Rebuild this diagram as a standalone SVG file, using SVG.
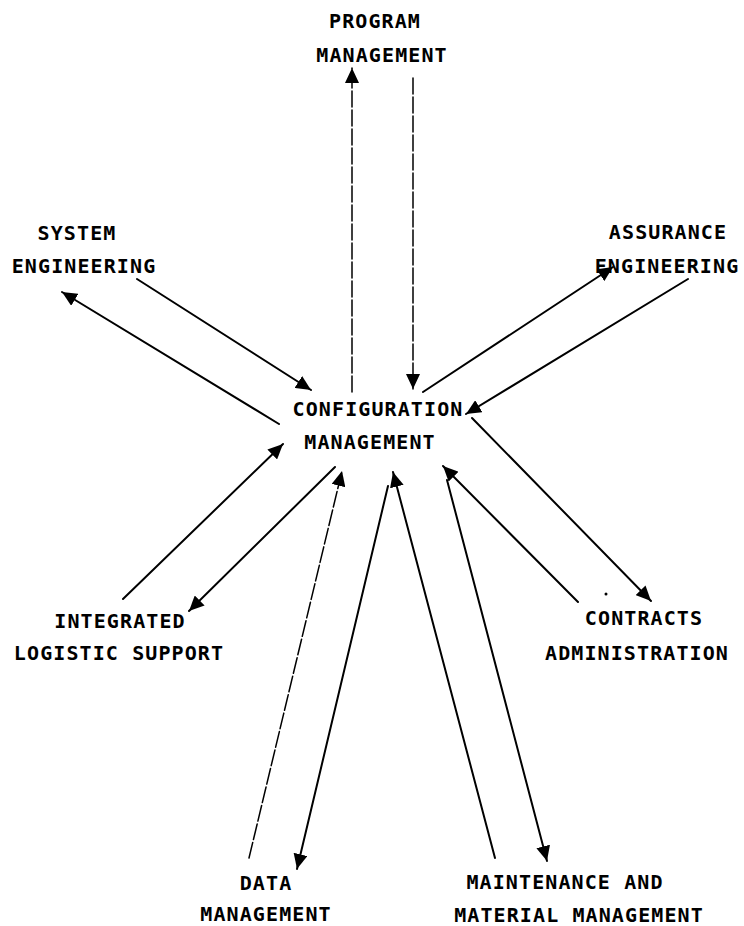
<svg xmlns="http://www.w3.org/2000/svg" width="744" height="926" viewBox="0 0 744 926">
  <style>
    .lbl { font-family: "DejaVu Sans Mono", "Liberation Mono", monospace; font-size: 20px; font-weight: bold; letter-spacing: 1.1px; fill: #000; text-anchor: middle; }
    .ln { stroke: #000; stroke-width: 2; fill: none; stroke-linecap: round; }
    .thin { stroke-width: 1.5; stroke-dasharray: 16 3; }
  </style>
  <defs>
    <marker id="arrow" markerUnits="userSpaceOnUse" markerWidth="16" markerHeight="14" refX="15" refY="7" orient="auto">
      <path d="M0,0 L15,7 L0,14 Z" fill="#000"/>
    </marker>
  </defs>
  <rect width="744" height="926" fill="#fff"/>

  <!-- nodes -->
  <g id="program-management">
    <text class="lbl" x="375" y="28">PROGRAM</text>
    <text class="lbl" x="382" y="62">MANAGEMENT</text>
  </g>
  <g id="system-engineering">
    <text class="lbl" x="77" y="240">SYSTEM</text>
    <text class="lbl" x="84" y="273">ENGINEERING</text>
  </g>
  <g id="assurance-engineering">
    <text class="lbl" x="668" y="239">ASSURANCE</text>
    <text class="lbl" x="667" y="273">ENGINEERING</text>
  </g>
  <g id="configuration-management">
    <text class="lbl" x="378" y="416">CONFIGURATION</text>
    <text class="lbl" x="370" y="449">MANAGEMENT</text>
  </g>
  <g id="integrated-logistic-support">
    <text class="lbl" x="120" y="628">INTEGRATED</text>
    <text class="lbl" x="119" y="660">LOGISTIC SUPPORT</text>
  </g>
  <g id="contracts-administration">
    <text class="lbl" x="644" y="625">CONTRACTS</text>
    <text class="lbl" x="637" y="660">ADMINISTRATION</text>
  </g>
  <g id="data-management">
    <text class="lbl" x="266" y="890">DATA</text>
    <text class="lbl" x="266" y="921">MANAGEMENT</text>
  </g>
  <g id="maintenance-material-management">
    <text class="lbl" x="565" y="889">MAINTENANCE AND</text>
    <text class="lbl" x="579" y="922">MATERIAL MANAGEMENT</text>
  </g>

  <!-- connectors -->
  <g id="connectors">
    <!-- program management -->
    <line class="ln thin" x1="352" y1="392" x2="352" y2="68" marker-end="url(#arrow)"/>
    <line class="ln thin" x1="413" y1="78" x2="413" y2="389" marker-end="url(#arrow)"/>
    <!-- system engineering -->
    <line class="ln" x1="279" y1="424" x2="62" y2="292" marker-end="url(#arrow)"/>
    <line class="ln" x1="137" y1="279" x2="311" y2="390" marker-end="url(#arrow)"/>
    <!-- assurance engineering -->
    <line class="ln" x1="423" y1="392" x2="613" y2="267" marker-end="url(#arrow)"/>
    <line class="ln" x1="688" y1="279" x2="466" y2="414" marker-end="url(#arrow)"/>
    <!-- contracts administration -->
    <line class="ln" x1="472" y1="418" x2="651" y2="601" marker-end="url(#arrow)"/>
    <line class="ln" x1="578" y1="602" x2="443" y2="466" marker-end="url(#arrow)"/>
    <circle cx="606" cy="594" r="1.5" fill="#000"/>
    <!-- maintenance and material management -->
    <line class="ln" x1="495" y1="858" x2="393" y2="472" marker-end="url(#arrow)"/>
    <line class="ln" x1="447" y1="480" x2="547" y2="861" marker-end="url(#arrow)"/>
    <!-- data management -->
    <line class="ln thin" x1="249" y1="858" x2="342" y2="471" marker-end="url(#arrow)"/>
    <line class="ln" x1="388" y1="486" x2="297" y2="869" marker-end="url(#arrow)"/>
    <!-- integrated logistic support -->
    <line class="ln" x1="123" y1="599" x2="283" y2="444" marker-end="url(#arrow)"/>
    <line class="ln" x1="335" y1="467" x2="189" y2="611" marker-end="url(#arrow)"/>
  </g>
</svg>
